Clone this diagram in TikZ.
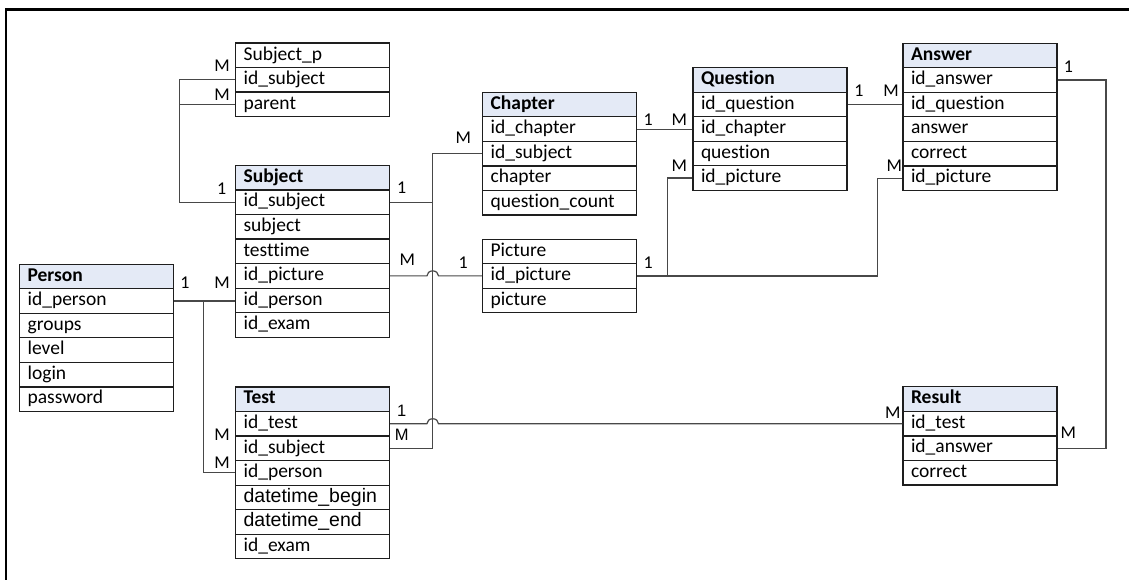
\documentclass[tikz,border=0pt]{standalone}
\usepackage{fontspec}
\setmainfont{Carlito}[Ligatures=NoCommon]
\newfontfamily\arial{Liberation Sans}
\usetikzlibrary{calc}
\definecolor{boxc}{RGB}{30,30,30}
\definecolor{linec}{RGB}{72,72,72}
\definecolor{headc}{RGB}{228,234,246}
\tikzset{
  cell/.style={draw=boxc, line width=1.2pt, fill=white, minimum width=154pt,
    minimum height=24.55pt, text width=138pt, align=left, inner xsep=8pt,
    inner ysep=0pt, text height=13.5pt, text depth=4pt, anchor=north west,
    font=\fontsize{19.5}{23}\selectfont},
  head/.style={cell, fill=headc, font=\fontsize{19.5}{23}\selectfont\bfseries},
  card/.style={anchor=base, inner sep=0pt, font=\fontsize{18}{20}\selectfont},
  acard/.style={anchor=base, inner sep=0pt, font=\fontsize{16.5}{20}\selectfont\arial},
  conn/.style={draw=linec, line width=1.2pt},
}
% rows of an entity box below its header
\newcommand\errows[4]{%
  \foreach \t [count=\i] in {#4}{\node[cell] (#1-\i) at (#2,{#3+\i*24.55}) {\t};}}
\begin{document}
\begin{tikzpicture}[x=1pt,y=-1pt]
\useasboundingbox (0,0) rectangle (1129,580);
% outer frame
\draw[line width=2.3pt, draw=black] (6.2,582) -- (6.2,9.5) -- (1131,9.5);

% Subject_p
\node[cell] (subjp-0) at (235,42.4) {Subject\_p};
\errows{subjp}{235}{42.4}{id\_subject,parent}
% Subject
\node[head] (subj-0) at (235,164.8) {Subject};
\errows{subj}{235}{164.8}{id\_subject,subject,testtime,id\_picture,id\_person,id\_exam}
% Person
\node[head] (pers-0) at (19,263.6) {Person};
\errows{pers}{19}{263.6}{id\_person,groups,level,login,password}
% Test
\node[head] (test-0) at (235,386.3) {Test};
\errows{test}{235}{386.3}{id\_test,id\_subject,id\_person,{\arial datetime\_begin},{\arial datetime\_end},id\_exam}
% Chapter
\node[head] (chap-0) at (482,91.7) {Chapter};
\errows{chap}{482}{91.7}{id\_chapter,id\_subject,chapter,question\_count}
% Picture
\node[cell] (pic-0) at (482,238.6) {Picture};
\errows{pic}{482}{238.6}{id\_picture,picture}
% Question
\node[head] (ques-0) at (692.4,67) {Question};
\errows{ques}{692.4}{67}{id\_question,id\_chapter,question,id\_picture}
% Answer
\node[head] (ans-0) at (902.4,42.6) {Answer};
\errows{ans}{902.4}{42.6}{id\_answer,id\_question,answer,correct,id\_picture}
% Result
\node[head] (res-0) at (902.4,386.2) {Result};
\errows{res}{902.4}{386.2}{id\_test,id\_answer,correct}

% vertical runs of the connectors
\coordinate (spx) at (179.3,0);
\coordinate (px) at (203.3,0);
\coordinate (vx) at (432.7,0);
\coordinate (qx) at (667.3,0);
\coordinate (ax) at (877.3,0);
\coordinate (rx) at (1106,0);

% Subject_p -> Subject
\draw[conn] (subjp-1.west) -- (subjp-1.west -| spx) |- (subj-1.west);
\draw[conn] (subjp-2.west) -- (subjp-2.west -| spx);
% Subject / Test -> Chapter
\draw[conn] (subj-1.east) -- (subj-1.east -| vx);
\draw[conn] (test-2.east) -- (test-2.east -| vx) |- (chap-2.west);
% Subject -> Picture (hop over the vertical run)
\draw[conn] (subj-4.east) -- ($(subj-4.east -| vx)+(-5.8pt,0)$)
  arc[start angle=180, end angle=0, x radius=5.8pt, y radius=5pt]
  -- (subj-4.east -| pic-1.west);
% Person -> Subject, Test
\draw[conn] (pers-1.east) -- (pers-1.east -| subj-5.west);
\draw[conn] (pers-1.east -| px) |- (test-3.west);
% Chapter -> Question
\draw[conn] (chap-1.east) -- (chap-1.east -| ques-2.west);
% Picture -> Question, Answer
\draw[conn] (pic-1.east) -- (pic-1.east -| qx) |- (ques-4.west);
\draw[conn] (pic-1.east -| qx) -- (pic-1.east -| ax) |- (ans-5.west);
% Question -> Answer
\draw[conn] (ques-1.east) -- (ques-1.east -| ans-2.west);
% Answer -> Result
\draw[conn] (ans-1.east) -- (ans-1.east -| rx) |- (res-2.east);
% Test -> Result (hop over the vertical run)
\draw[conn] (test-1.east) -- ($(test-1.east -| vx)+(-5.8pt,0)$)
  arc[start angle=180, end angle=0, x radius=5.8pt, y radius=5pt]
  -- (test-1.east -| res-1.west);

% cardinalities
\node[card] (c1) at (222,71.7) {M};
\node[card] (c2) at (222,101) {M};
\node[card] (c3) at (221.7,195) {1};
\node[card] (c4) at (401.7,193.3) {1};
\node[card] (c5) at (407.3,265) {M};
\node[card] (c6) at (185,288) {1};
\node[card] (c7) at (222,288) {M};
\node[card] (c8) at (222,440.7) {M};
\node[card] (c9) at (222,468.3) {M};
\node[acard] (c10) at (401.7,416) {1};
\node[acard] (c11) at (401.7,440.7) {M};
\node[card] (c12) at (463.3,143.3) {M};
\node[card] (c13) at (463.3,268.3) {1};
\node[card] (c14) at (648.3,126) {1};
\node[card] (c15) at (679.3,126) {M};
\node[card] (c16) at (679.3,171.7) {M};
\node[card] (c17) at (648.3,268.3) {1};
\node[card] (c18) at (859,96.7) {1};
\node[card] (c19) at (891,96.7) {M};
\node[card] (c20) at (894.3,171.7) {M};
\node[card] (c21) at (1068.3,72.7) {1};
\node[card] (c22) at (1068.3,438.3) {M};
\node[card] (c23) at (892.7,418.3) {M};
\end{tikzpicture}
\end{document}
